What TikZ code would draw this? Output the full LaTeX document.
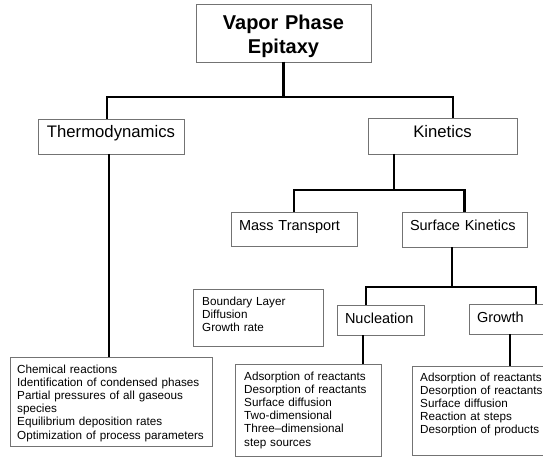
\documentclass[tikz,border=0pt]{standalone}
\usepackage{fontspec}
\setmainfont{Liberation Sans}
\definecolor{boxgray}{RGB}{115,115,115}
\begin{document}
\begin{tikzpicture}[x=1pt,y=-1pt,
  box/.style={draw=boxgray, line width=0.9pt, inner sep=0pt, outer sep=0pt},
  tone/.style={box, font=\fontsize{16.7}{20}\selectfont, text height=9pt, text depth=6pt},
  ttwo/.style={box, font=\fontsize{14.5}{17}\selectfont, align=left, inner xsep=8pt, inner ysep=0pt, text height=7pt, text depth=5pt},
  lst/.style={font=\fontsize{11.7}{13.2}\selectfont, align=left, inner sep=0pt, anchor=base west},
  conn/.style={line width=2.6pt, black, line join=miter}
]
\fill[white] (0,0) rectangle (543,457);
\useasboundingbox (0,0) rectangle (543,457);

% boxes
\node[box, minimum width=175pt, minimum height=58pt] (vpe) at (283.5,33) {};
\node[font=\bfseries\fontsize{20}{24}\selectfont, align=center, text width=170pt, inner sep=0pt, anchor=base] (vpetxt) at (283.5,30) {Vapor Phase\\Epitaxy};

\node[tone, minimum width=146pt, minimum height=35pt] (thermo) at (111,136.5) {Thermodynamics};
\node[tone, minimum width=149pt, minimum height=36pt] (kin) at (442.5,136) {Kinetics};

\node[ttwo, text width=110pt, minimum height=34pt] (mt) at (294,229) {Mass Transport};
\node[ttwo, text width=109pt, minimum height=35pt] (sk) at (464.5,229.5) {Surface Kinetics};

\node[ttwo, text width=71pt, minimum height=30pt, text height=9pt, text depth=3pt] (nuc) at (380.5,320) {Nucleation};
\node[ttwo, text width=62pt, minimum height=30pt, text height=9pt, text depth=3pt] (gro) at (508,319) {Growth};

\node[box, minimum width=130pt, minimum height=57pt] (bl) at (258,317.5) {};
\node[lst, text width=120pt] (bltxt) at ([xshift=9pt,yshift=-16pt]bl.north west)
  {Boundary Layer\\Diffusion\\Growth rate};

\node[box, minimum width=202pt, minimum height=89pt] (thl) at (111,401.5) {};
\node[lst, text width=195pt] (thltxt) at ([xshift=7pt,yshift=-16pt]thl.north west)
  {Chemical reactions\\Identification of condensed phases\\Partial pressures of all gaseous\\species\\Equilibrium deposition rates\\Optimization of process parameters};

\node[box, minimum width=146pt, minimum height=92pt] (nul) at (308,410) {};
\node[lst, text width=135pt] (nultxt) at ([xshift=9pt,yshift=-16pt]nul.north west)
  {Adsorption of reactants\\Desorption of reactants\\Surface diffusion\\Two-dimensional\\Three–dimensional\\step sources};

\node[box, minimum width=138pt, minimum height=89pt] (grl) at (481,410.5) {};
\node[lst, text width=130pt] (grltxt) at ([xshift=8pt,yshift=-15pt]grl.north west)
  {Adsorption of reactants\\Desorption of reactants\\Surface diffusion\\Reaction at steps\\Desorption of products};

% connectors
\draw[conn] (vpe.south) -- ++(0,35) -| ([xshift=-4pt]thermo.north);
\draw[conn] (vpe.south) -- ++(0,35) -| ([xshift=10.5pt]kin.north);
\draw[conn] ([xshift=-2pt]thermo.south) -- ([xshift=-2pt]thermo.south |- thl.north);
\draw[conn] ([xshift=-48.5pt]kin.south) -- ++(0,36) -| (mt.north);
\draw[conn] ([xshift=-48.5pt]kin.south) -- ++(0,36) -| (sk.north);
\draw[conn] ([xshift=-12.5pt]sk.south) -- ++(0,40) -| ([xshift=-14.5pt]nuc.north);
\draw[conn] ([xshift=-12.5pt]sk.south) -- ++(0,40) -| ([xshift=28pt]gro.north);
\draw[conn] ([xshift=-17.5pt]nuc.south) -- ([xshift=-17.5pt]nuc.south |- nul.north);
\draw[conn] ([xshift=2pt]gro.south) -- ([xshift=2pt]gro.south |- grl.north);
\end{tikzpicture}
\end{document}
